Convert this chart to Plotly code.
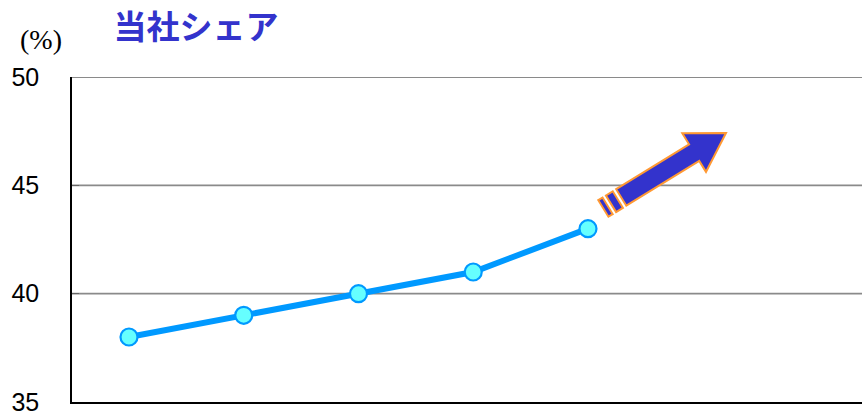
import math
import plotly.graph_objects as go

# ---- data ----
periods = ["P1", "P2", "P3", "P4", "P5"]
share = [38, 39, 40, 41, 43]
y_ticks = [35, 40, 45, 50]
grid_vals = [40, 45, 50]
title_text = "当社シェア"
unit_text = "(%)"

# ---- layout constants ----
W, H = 862, 417
ML, MR, MT, MB = 72, 0, 77, 15
X_RANGE = [-0.4967, 6.388]
Y_RANGE = [35, 50]

xs = list(range(len(periods)))

fig = go.Figure()
fig.add_trace(go.Scatter(
    x=xs, y=share, mode="lines+markers",
    line=dict(color="#0099FF", width=6),
    marker=dict(size=17, color="#66FFFF", line=dict(color="#0099FF", width=2.2)),
    cliponaxis=False, hoverinfo="skip", showlegend=False,
))

# gridlines (drawn as shapes so the top one at the range edge is kept)
for g in grid_vals:
    fig.add_shape(type="line", xref="paper", yref="y", x0=0, x1=1, y0=g, y1=g,
                  line=dict(color="#8a8a8a", width=1.8), layer="below")

# ---- decorative arrow (defined in pixel space, converted to data coords) ----
pw, ph = W - ML - MR, H - MT - MB
def px2data(px, py):
    xd = X_RANGE[0] + (px - ML) / pw * (X_RANGE[1] - X_RANGE[0])
    yd = Y_RANGE[1] - (py - MT) / ph * (Y_RANGE[1] - Y_RANGE[0])
    return xd, yd

tip = (726.0, 133.0)
th = math.radians(31.6)
d = (math.cos(th), -math.sin(th))
n = (math.sin(th), math.cos(th))
def local(a, p):
    return px2data(tip[0] + a * d[0] + p * n[0], tip[1] + a * d[1] + p * n[1])

def path(pts):
    cs = [local(a, p) for a, p in pts]
    return "M " + " L ".join(f"{x:.5f},{y:.5f}" for x, y in cs) + " Z"

HL, HW, BW = 37.4, 22.6, 9.7
arrow_parts = [
    [(0, 0), (-HL, -HW), (-HL, -BW), (-123, -BW), (-123, BW), (-HL, BW), (-HL, HW)],
    [(-127, -BW), (-135, -BW), (-135, BW), (-127, BW)],
    [(-139, -BW), (-144, -BW), (-144, BW), (-139, BW)],
]
for part in arrow_parts:
    fig.add_shape(type="path", path=path(part), xref="x", yref="y",
                  fillcolor="#3333CC", line=dict(color="#FF9933", width=2), layer="above")

fig.update_layout(
    width=W, height=H,
    margin=dict(l=ML, r=MR, t=MT, b=MB, pad=0),
    paper_bgcolor="white", plot_bgcolor="white",
    title=dict(text=f"<b>{title_text}</b>", x=196 / W, xanchor="center",
               y=1 - 27 / H, yanchor="middle", xref="container", yref="container",
               font=dict(family="Noto Sans CJK JP", size=33, color="#3333CC")),
    xaxis=dict(range=X_RANGE, showgrid=False, zeroline=False, showticklabels=False,
               showline=True, linecolor="black", linewidth=1.5, ticks=""),
    yaxis=dict(range=Y_RANGE, tickvals=y_ticks, showgrid=False, zeroline=False,
               showline=True, linecolor="black", linewidth=1.5,
               ticks="inside", ticklen=7, tickcolor="#666666",
               ticklabelstandoff=26, ticklabeloverflow="allow",
               tickfont=dict(family="Liberation Sans", size=25, color="black")),
    annotations=[dict(text=unit_text, xref="paper", yref="paper",
                      x=(41 - ML) / pw, y=(H - MB - 39) / ph, xanchor="center", yanchor="middle",
                      showarrow=False,
                      font=dict(family="Liberation Serif", size=28, color="black"))],
)

fig.write_html("out.html", config={"displayModeBar": False},
               post_script="document.body.style.margin='0';document.body.style.overflow='hidden';")
